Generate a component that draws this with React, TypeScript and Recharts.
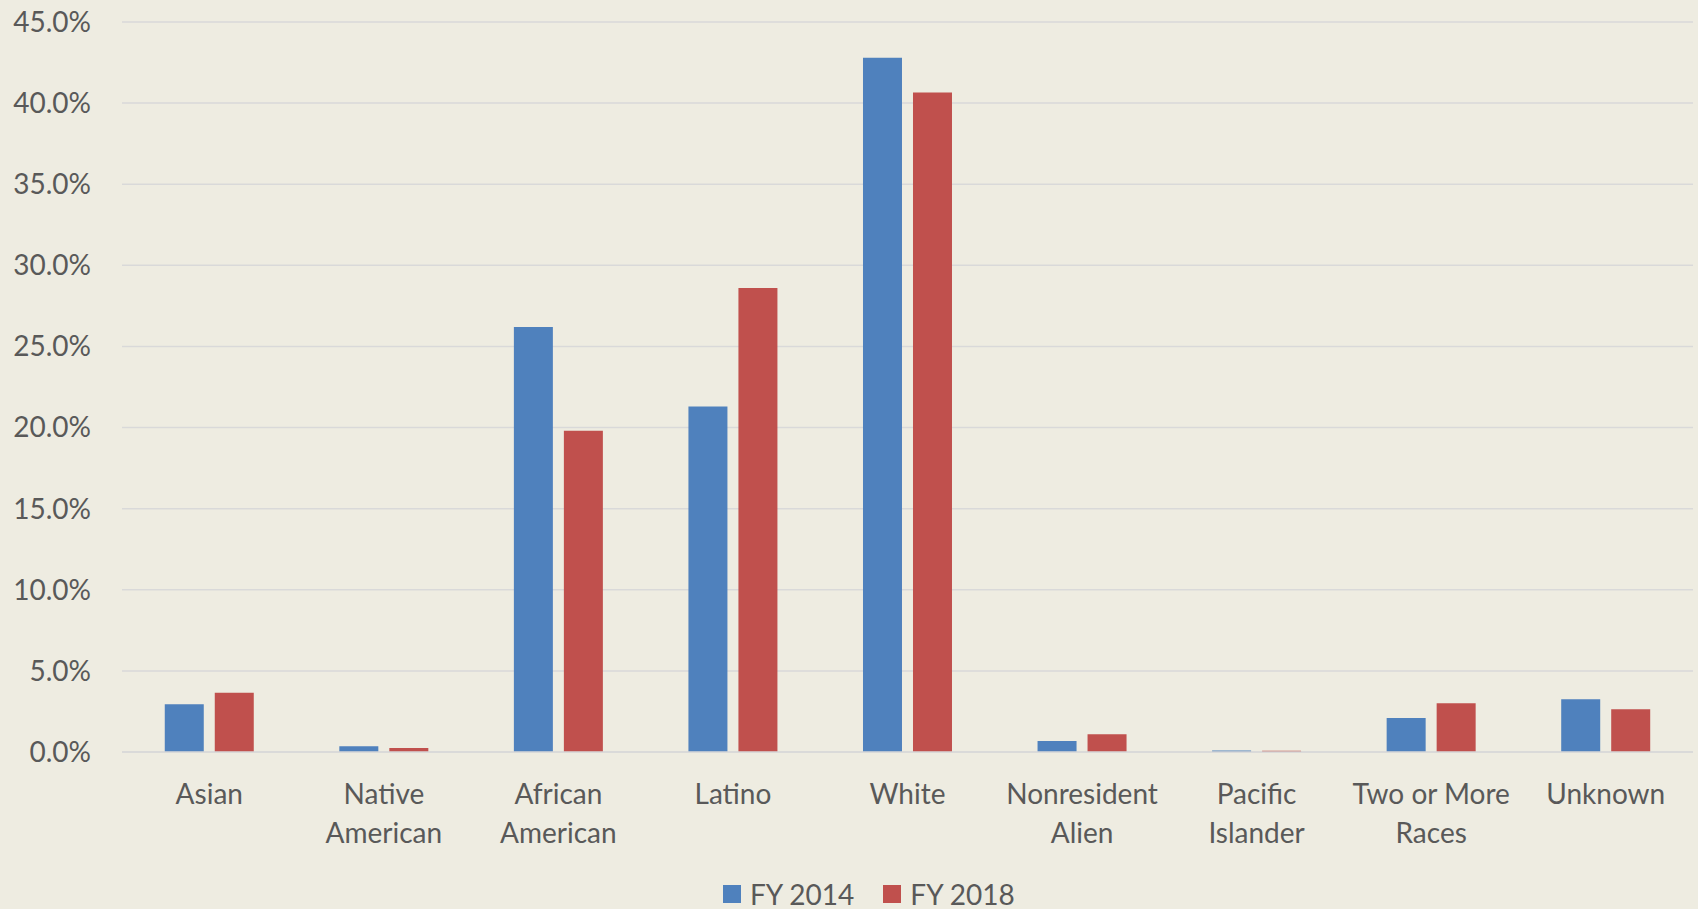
import { Bar, BarChart, CartesianGrid, Legend, XAxis, YAxis } from "recharts"

const categories = [
  "Asian",
  "Native American",
  "African American",
  "Latino",
  "White",
  "Nonresident Alien",
  "Pacific Islander",
  "Two or More Races",
  "Unknown",
]
const fy2014 = [2.94, 0.35, 26.2, 21.3, 42.8, 0.68, 0.1, 2.1, 3.25]
const fy2018 = [3.66, 0.25, 19.8, 28.6, 40.65, 1.09, 0.07, 3.0, 2.64]
const yTicks = [0, 5, 10, 15, 20, 25, 30, 35, 40, 45]

const BLUE = "#4F81BD"
const RED = "#C0504D"
const BG = "#EEECE1"
const TEXT = "#595959"
const GRID = "#D9D9D9"
const FONT = "Lato, 'Open Sans', sans-serif"
const FS = 28

const chartData = categories.map((name, i) => ({ name, fy2014: fy2014[i], fy2018: fy2018[i] }))

// greedy wrap by character count, like the category labels in the original
const wrapLabel = (label: string, maxChars = 11) => {
  const lines: string[] = []
  let cur = ""
  for (const w of label.split(" ")) {
    const next = cur ? `${cur} ${w}` : w
    if (cur && next.length > maxChars) {
      lines.push(cur)
      cur = w
    } else {
      cur = next
    }
  }
  if (cur) lines.push(cur)
  return lines
}

const XTick = (props: any) => {
  const { x, y, payload } = props
  const lines = wrapLabel(String(payload.value))
  return (
    <text x={x} y={y + 20} textAnchor="middle" fill={TEXT} style={{ fontSize: FS, fontFamily: FONT }}>
      {lines.map((line, i) => (
        <tspan key={i} x={x} dy={i === 0 ? 0 : 39}>
          {line}
        </tspan>
      ))}
    </text>
  )
}

const LegendContent = () => (
  <div
    style={{
      width: 1698,
      height: 30,
      display: "flex",
      alignItems: "center",
      fontFamily: FONT,
      fontSize: FS,
      color: TEXT,
      lineHeight: 1,
    }}
  >
    <span style={{ width: 18, height: 18, background: BLUE, marginLeft: 723, marginRight: 9 }} />
    <span>FY 2014</span>
    <span style={{ width: 18, height: 18, background: RED, marginLeft: 29, marginRight: 9 }} />
    <span>FY 2018</span>
  </div>
)

export default function App() {
  return (
    <div style={{ position: "absolute", left: 0, top: 0, width: 1698, height: 909, background: BG }}>
      <BarChart
        width={1698}
        height={909}
        data={chartData}
        margin={{ top: 22, right: 5, bottom: 0, left: 12 }}
        barGap={11}
        barCategoryGap="24.5%"
      >
        <CartesianGrid horizontal vertical={false} stroke={GRID} strokeWidth={1.5} />
        <YAxis
          width={110}
          domain={[0, 45]}
          ticks={yTicks}
          axisLine={false}
          tickLine={false}
          tickSize={0}
          tickMargin={31}
          tickFormatter={(v: number) => `${v.toFixed(1)}%`}
          tick={{ fill: TEXT, fontSize: FS, fontFamily: FONT }}
        />
        <XAxis
          dataKey="name"
          height={127}
          interval={0}
          axisLine={{ stroke: GRID, strokeWidth: 1.5 }}
          tickLine={false}
          tickSize={0}
          tickMargin={32}
          tick={<XTick />}
        />
        <Legend
          verticalAlign="bottom"
          content={<LegendContent />}
          wrapperStyle={{ left: 0, width: 1698 }}
        />
        <Bar dataKey="fy2014" name="FY 2014" fill={BLUE} isAnimationActive={false} />
        <Bar dataKey="fy2018" name="FY 2018" fill={RED} isAnimationActive={false} />
      </BarChart>
    </div>
  )
}
